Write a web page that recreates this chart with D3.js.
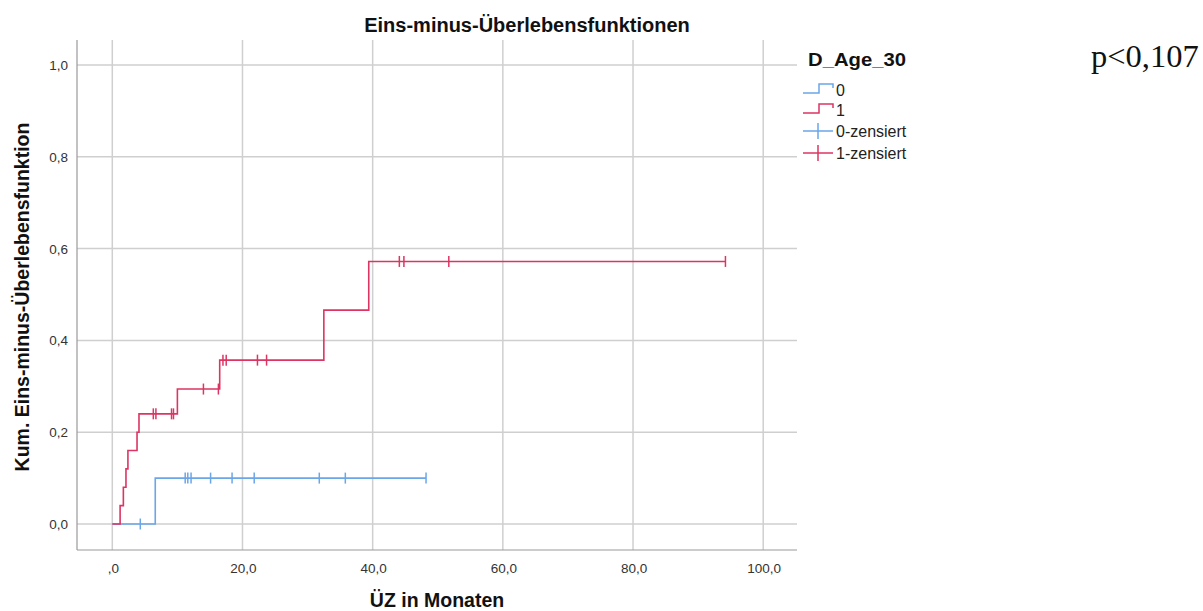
<!DOCTYPE html>
<html><head><meta charset="utf-8">
<script src="https://cdn.jsdelivr.net/npm/d3@7"></script>
<style>body{margin:0;background:#fff;} svg{display:block;font-family:"Liberation Sans",Arial,sans-serif;}</style>
</head><body>
<svg id="c" width="1203" height="611"></svg>
<script>
// Data: step curves (time in months, cumulative 1 - survival)
const group0Steps = [[0,0],[6.6,0.10],[48.2,0.10]];
const group0Censored = [4.3,11.2,11.6,12.1,15.1,18.4,21.8,31.8,35.8,48.2];
const group1Steps = [[0,0],[1.2,0.04],[1.7,0.08],[2.1,0.12],[2.4,0.16],[3.8,0.20],[4.1,0.24],[10.0,0.294],[16.5,0.357],[32.5,0.466],[39.4,0.572],[94.2,0.572]];
const group1Censored = [6.3,6.7,9.1,9.4,14.0,16.3,17.0,17.5,22.3,23.7,44.1,44.8,51.7,94.2];
const xTicks = [0,20,40,60,80,100];
const yTicks = [0,0.2,0.4,0.6,0.8,1.0];
const legendLabels = ["0","1","0-zensiert","1-zensiert"];
const colors = {g0:"#6aa6e8", g1:"#dc3563"};

const svg = d3.select("#c");
const x = d3.scaleLinear().domain([0,100]).range([112.3,763.2]);
const y = d3.scaleLinear().domain([0,1]).range([524,65]);
const L=77, R=797, T=40, B=550;
const fmtX = v => v===0 ? ",0" : v.toFixed(1).replace(".",",");

// gridlines
svg.append("g").selectAll("line").data(yTicks).join("line")
  .attr("x1",L).attr("x2",R).attr("y1",d=>y(d)).attr("y2",d=>y(d))
  .attr("stroke","#cfcfcf").attr("stroke-width",1.5);
svg.append("g").selectAll("line").data(xTicks).join("line")
  .attr("x1",d=>x(d)).attr("x2",d=>x(d)).attr("y1",T).attr("y2",B)
  .attr("stroke","#cfcfcf").attr("stroke-width",1.5);
// axis lines
svg.append("line").attr("x1",L).attr("x2",L).attr("y1",T).attr("y2",B).attr("stroke","#999").attr("stroke-width",1.2);
svg.append("line").attr("x1",L).attr("x2",R).attr("y1",B).attr("y2",B).attr("stroke","#999").attr("stroke-width",1.2);

// tick labels
svg.append("g").selectAll("text").data(yTicks).join("text")
  .attr("x",68).attr("y",d=>y(d)+5).attr("text-anchor","end")
  .attr("font-size",13.5).attr("fill","#333").text(d=>d.toFixed(1).replace(".",","));
svg.append("g").selectAll("text").data(xTicks).join("text")
  .attr("x",d=>x(d)+1).attr("y",573).attr("text-anchor","middle")
  .attr("font-size",13.5).attr("fill","#333").text(fmtX);

// titles
svg.append("text").attr("x",527).attr("y",32).attr("text-anchor","middle")
  .attr("font-size",20).attr("font-weight","bold").attr("fill","#111").text("Eins-minus-Überlebensfunktionen");
svg.append("text").attr("x",437).attr("y",607).attr("text-anchor","middle")
  .attr("font-size",19.5).attr("font-weight","bold").attr("fill","#111").text("ÜZ in Monaten");
svg.append("text").attr("transform","translate(29,297) rotate(-90)").attr("text-anchor","middle")
  .attr("font-size",19.5).attr("font-weight","bold").attr("fill","#111").text("Kum. Eins-minus-Überlebensfunktion");

// curves
const line = d3.line().x(d=>x(d[0])).y(d=>y(d[1])).curve(d3.curveStepAfter);
function drawGroup(steps, cens, col){
  svg.append("path").attr("d",line(steps)).attr("fill","none").attr("stroke",col).attr("stroke-width",1.6);
  const valAt = t => { let v=0; for (const s of steps) if (s[0]<=t) v=s[1]; return v; };
  svg.append("g").selectAll("line").data(cens).join("line")
    .attr("x1",d=>x(d)).attr("x2",d=>x(d)).attr("y1",d=>y(valAt(d))-5.5).attr("y2",d=>y(valAt(d))+5.5)
    .attr("stroke",col).attr("stroke-width",1.5);
}
drawGroup(group0Steps, group0Censored, colors.g0);
drawGroup(group1Steps, group1Censored, colors.g1);

// legend
svg.append("text").attr("x",808).attr("y",66).attr("font-size",18).attr("font-weight","bold").attr("fill","#111")
  .attr("textLength",98).attr("lengthAdjust","spacingAndGlyphs").text("D_Age_30");
const legY = [90,110,131,153];
const legCol = [colors.g0, colors.g1, colors.g0, colors.g1];
legendLabels.forEach((lab,i)=>{
  const yy = legY[i], c = legCol[i];
  if (i<2){
    svg.append("path").attr("d",`M803,${yy+3}H819V${yy-6}H833V${yy-2}`).attr("fill","none").attr("stroke",c).attr("stroke-width",1.5);
  } else {
    svg.append("line").attr("x1",803).attr("x2",833).attr("y1",yy).attr("y2",yy).attr("stroke",c).attr("stroke-width",1.5);
    svg.append("line").attr("x1",818).attr("x2",818).attr("y1",yy-8).attr("y2",yy+8).attr("stroke",c).attr("stroke-width",1.5);
  }
  svg.append("text").attr("x",836).attr("y",yy+6).attr("font-size",16).attr("fill","#222").text(lab);
});

// p-value
svg.append("text").attr("x",1091).attr("y",67).attr("font-family","'Liberation Serif','Times New Roman',serif")
  .attr("font-size",32.5).attr("fill","#111").text("p<0,107");
</script>
</body></html>
